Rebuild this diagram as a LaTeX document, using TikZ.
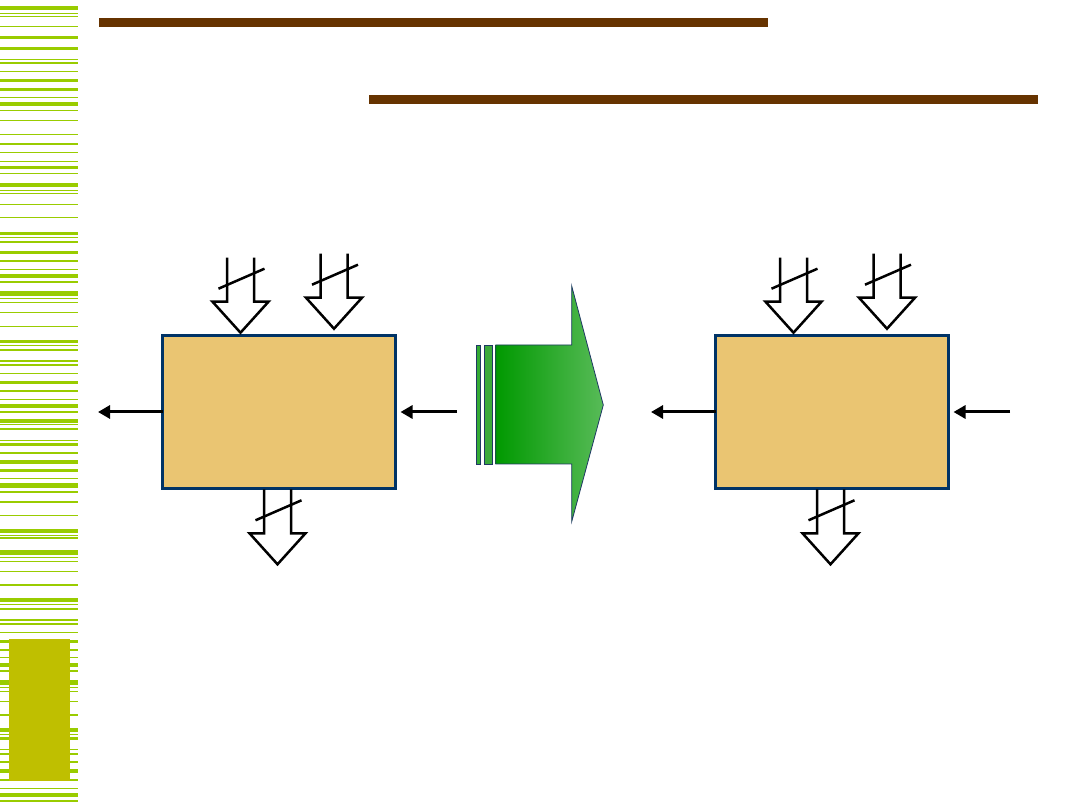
\documentclass[tikz,border=0pt]{standalone}
\usetikzlibrary{arrows.meta}
\definecolor{stripegreen}{RGB}{153,204,0}
\definecolor{olivebox}{RGB}{191,191,0}
\definecolor{brownline}{RGB}{102,51,0}
\definecolor{boxfill}{RGB}{234,197,114}
\definecolor{boxborder}{RGB}{0,51,102}
\definecolor{gdark}{RGB}{0,153,0}
\definecolor{glight}{RGB}{88,187,88}
\definecolor{garrowborder}{RGB}{31,56,100}
\definecolor{gbarone}{RGB}{51,170,51}
\definecolor{gbartwo}{RGB}{60,170,60}
\tikzset{
  x=1pt, y=-1pt,
  blockbox/.style={draw=boxborder, fill=boxfill, line width=3pt, minimum width=233pt, minimum height=152.5pt, anchor=north west, inner sep=0pt, outer sep=0pt},
  thinarrow/.style={line width=3pt, -{Triangle[length=12pt,width=13pt]}},
  busarrow/.pic={
    \draw[line width=2.5pt, line join=miter] (-13.5,-44) -- (-13.5,0) -- (-28,0) -- (0,31) -- (28,0) -- (13.5,0) -- (13.5,-44);
    \draw[line width=2.5pt] (-22,-13) -- (24,-33);
  },
  brown/.style={brownline, line width=9pt},
  gbar/.style={draw=garrowborder, line width=0.8pt, fill=#1}
}
\begin{document}
\begin{tikzpicture}
\useasboundingbox (0,0) rectangle (1080,810);
% left stripes
\foreach \yy/\ww in {7.7/4, 13.3/1, 16.7/1.5, 26.7/1.5, 37.7/3, 48.3/2.5, 59.3/1, 63/2.5, 71.7/1.5, 80.7/3, 89.3/2.5, 97.7/1.5, 104.3/4, 110.7/1.5, 120.7/1.5, 134.3/1, 144/2.5, 152.7/1.5, 161.3/1, 167.7/3.5, 173.7/1.5, 185/4, 190.7/1, 194/1,
204.3/1, 217.7/1.5, 233.3/3, 237.3/1, 241.7/2, 252.3/3, 260.7/2, 269.3/1, 276/4, 281.7/2, 293.3/5, 298.3/1, 302.3/1, 312.3/1, 326.3/1, 341.3/3, 345.3/1, 349.7/2, 360.7/2, 364.7/2, 373.3/1, 382.3/3, 390.7/2, 399.3/1,
405.7/4, 411.7/2, 420.7/4, 425/1, 428.7/2, 440.3/1, 444.3/3, 452.7/2, 462/4, 470.3/3, 478.3/1, 485.3/5, 491.7/2, 501.7/2, 515.3/1, 531/4, 535/1, 538.3/2, 552/5, 557.3/1, 561.3/1, 571.3/1, 584.7/2, 598.7/2,
600.7/2, 604.3/1, 608.7/2, 620/2, 624/2, 632.3/1, 641.3/3, 649.7/2, 657.7/1, 664.7/4, 671/2, 682/5, 687.3/1, 691/1, 701/1, 715/2, 729.7/4, 734.3/1, 738/3, 749.3/1, 753.7/2, 762/2, 770.7/4, 779.7/2, 788.3/1, 794.7/4, 800.7/2}
  \draw[stripegreen, line width=\ww pt] (0,\yy) -- (78,\yy);
\fill[olivebox] (9,639) rectangle (70,781);
% brown title lines
\draw[brown] (99,22.5) -- (768,22.5);
\draw[brown] (369,99.7) -- (1038,99.7);
% boxes
\node[blockbox] (boxL) at (162.5,335.7) {};
\node[blockbox] (boxR) at (715.5,335.7) {};
% thin arrows
\coordinate (outL) at (98,412);
\coordinate (inL) at (457,412);
\coordinate (outR) at (651,412);
\coordinate (inR) at (1010,412);
\draw[thinarrow] (boxL.west |- outL) -- (outL);
\draw[thinarrow, shorten >=5pt] (inL) -- (boxL.east |- inL);
\draw[thinarrow] (boxR.west |- outR) -- (outR);
\draw[thinarrow, shorten >=5pt] (inR) -- (boxR.east |- inR);
% bus arrows
\pic at (240.5,301.7) {busarrow};
\pic at (334,297.7) {busarrow};
\pic at (277.5,533.3) {busarrow};
\pic at (793.5,301.7) {busarrow};
\pic at (887,297.7) {busarrow};
\pic at (830.5,533.3) {busarrow};
% big green arrow
\draw[gbar=gbarone] (476,345) rectangle (480.7,464);
\draw[gbar=gbartwo] (484.3,345) rectangle (492.3,464);
\shade[left color=gdark, right color=glight]
  (495.7,345) -- (571.7,345) -- (571.7,286) -- (603.3,405) -- (571.7,521.7) -- (571.7,464) -- (495.7,464) -- cycle;
\draw[garrowborder, line width=0.8pt] (495.7,345) -- (571.7,345) -- (571.7,286) -- (603.3,405) -- (571.7,521.7) -- (571.7,464) -- (495.7,464) -- cycle;
\end{tikzpicture}
\end{document}
